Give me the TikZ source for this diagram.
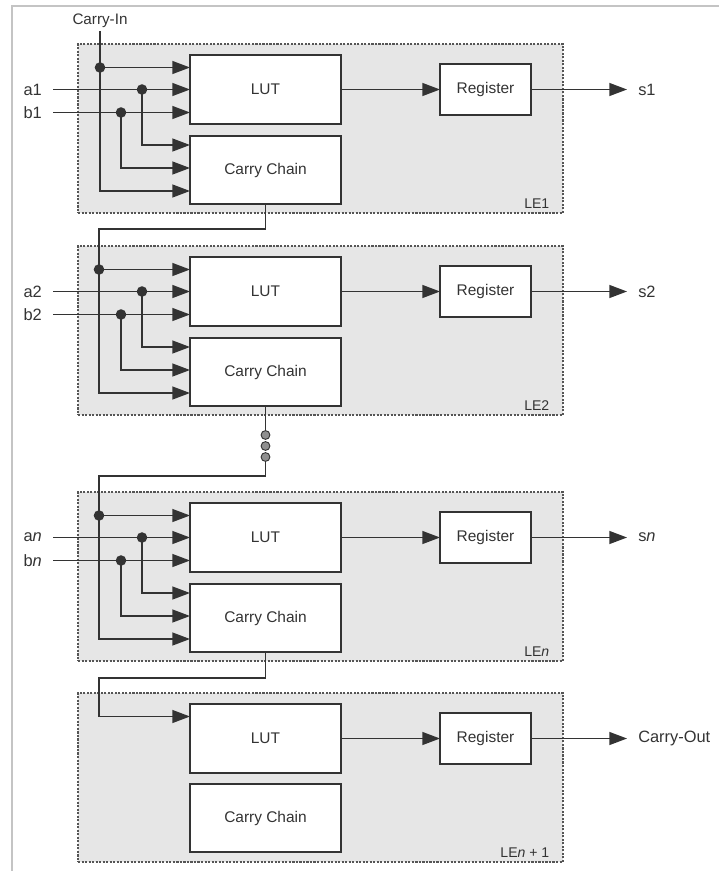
\documentclass[tikz,border=0pt]{standalone}
\usepackage{fontspec}
\setmainfont{Liberation Sans}
\usepackage{xcolor}
\usepackage{tikz}
\usetikzlibrary{positioning,arrows.meta,calc}

\definecolor{wire}{HTML}{333333}
\definecolor{lefill}{HTML}{E6E6E6}
\definecolor{ledash}{HTML}{555555}
\definecolor{pageline}{HTML}{C4C4C4}

\begin{document}
\begin{tikzpicture}[x=0.03cm,y=-0.03cm,color=wire,line width=1.2pt,
  >={Triangle[length=15pt,width=11pt]},
  every node/.style={font=\fontsize{13.2}{15}\selectfont,align=center},
  lebox/.style={draw=ledash,fill=lefill,line width=1.1pt,dash pattern=on 1.8pt off 1.2pt,
    minimum width=14.55cm,minimum height=5.07cm,inner sep=0pt,outer sep=0pt},
  lutbox/.style={draw,fill=white,line width=1.4pt,minimum width=4.53cm,minimum height=2.07cm,
    inner sep=0pt,outer sep=0pt},
  ccbox/.style={lutbox,minimum height=2.04cm},
  regbox/.style={lutbox,minimum width=2.73cm,minimum height=1.53cm},
  joint/.style={circle,fill,inner sep=0pt,minimum size=9pt,outer sep=0pt},
  gapdot/.style={circle,draw=wire,fill=wire!55,line width=0.8pt,inner sep=0pt,minimum size=7.5pt},
  iolbl/.style={inner xsep=9pt,inner ysep=1pt,font=\fontsize{14}{16}\selectfont},
  lelbl/.style={inner sep=0pt,font=\fontsize{12}{14}\selectfont},
  cinlbl/.style={inner sep=2pt,font=\fontsize{13}{15}\selectfont}]
  \useasboundingbox (0,0) rectangle (719,871);
  \draw[pageline,line width=1.3pt] (12,871) -- (12,6) -- (719,6);

  % LE1
  \node[lebox] (le1) at (320.5,128.5) {};
  \node[lutbox] (lut1) at (265.5,89.5) {LUT};
  \node[ccbox,below=0.36cm of lut1] (cc1) {Carry Chain};
  \node[regbox,right=2.97cm of lut1] (reg1) {Register};
  \node[lelbl,anchor=base east] (lename1) at ($(le1.south east)+(-13,-5)$) {LE1};
  \node[cinlbl,anchor=south] (cin) at (100,31) {Carry-In};
  \node[joint] (jc1) at (100,67.5) {};
  \node[joint] (ja1) at (142,89.5) {};
  \node[joint] (jb1) at (121,112.5) {};
  \node[iolbl,anchor=east] (a1) at (53,89.5) {a1};
  \node[iolbl,anchor=east] (b1) at (53,112.5) {b1};
  \node[iolbl,right=2.88cm of reg1] (s1) {s1};

  \draw (cin) -- (jc1.center);
  \draw[->] (jc1.center) -- (lut1.west |- jc1.center);
  \draw[->] (jc1.center) |- ($(cc1.west)+(0,21)$);
  \draw (a1) -- (ja1.center);
  \draw[->] (ja1.center) -- (lut1.west |- ja1.center);
  \draw[->] (ja1.center) |- ($(cc1.west)+(0,-25)$);
  \draw (b1) -- (jb1.center);
  \draw[->] (jb1.center) -- (lut1.west |- jb1.center);
  \draw[->] (jb1.center) |- ($(cc1.west)+(0,-2)$);
  \draw[->] (lut1) -- (reg1);
  \draw[->] (reg1) -- (s1);

  % LE2
  \node[lebox] (le2) at (320.5,330.5) {};
  \node[lutbox] (lut2) at (265.5,291.5) {LUT};
  \node[ccbox,below=0.36cm of lut2] (cc2) {Carry Chain};
  \node[regbox,right=2.97cm of lut2] (reg2) {Register};
  \node[lelbl,anchor=base east] (lename2) at ($(le2.south east)+(-13,-5)$) {LE2};
  \node[joint] (jc2) at (99,269.5) {};
  \node[joint] (ja2) at (142,291.5) {};
  \node[joint] (jb2) at (121,314.5) {};
  \node[iolbl,anchor=east] (a2) at (53,291.5) {a2};
  \node[iolbl,anchor=east] (b2) at (53,314.5) {b2};
  \node[iolbl,right=2.88cm of reg2] (s2) {s2};

  \draw (cc1.south) -- ++(0,25) -| (jc2.center);
  \draw[->] (jc2.center) -- (lut2.west |- jc2.center);
  \draw[->] (jc2.center) |- ($(cc2.west)+(0,21)$);
  \draw (a2) -- (ja2.center);
  \draw[->] (ja2.center) -- (lut2.west |- ja2.center);
  \draw[->] (ja2.center) |- ($(cc2.west)+(0,-25)$);
  \draw (b2) -- (jb2.center);
  \draw[->] (jb2.center) -- (lut2.west |- jb2.center);
  \draw[->] (jb2.center) |- ($(cc2.west)+(0,-2)$);
  \draw[->] (lut2) -- (reg2);
  \draw[->] (reg2) -- (s2);

  % gap
  \node[gapdot] (gd1) at (265.5,435) {};
  \node[gapdot] (gd2) at (265.5,446) {};
  \node[gapdot] (gd3) at (265.5,457) {};
  \draw (cc2) -- (gd1);

  % LEn
  \node[lebox] (len) at (320.5,576.5) {};
  \node[lutbox] (lutn) at (265.5,537.5) {LUT};
  \node[ccbox,below=0.36cm of lutn] (ccn) {Carry Chain};
  \node[regbox,right=2.97cm of lutn] (regn) {Register};
  \node[lelbl,anchor=base east] (lenamen) at ($(len.south east)+(-13,-5)$) {LE\textit{n}};
  \node[joint] (jcn) at (99,515.5) {};
  \node[joint] (jan) at (142,537.5) {};
  \node[joint] (jbn) at (121,560.5) {};
  \node[iolbl,anchor=east] (an) at (53,537.5) {a\textit{n}};
  \node[iolbl,anchor=east] (bn) at (53,560.5) {b\textit{n}};
  \node[iolbl,right=2.88cm of regn] (sn) {s\textit{n}};

  \draw (gd3) -- ++(0,19) -| (jcn.center);
  \draw[->] (jcn.center) -- (lutn.west |- jcn.center);
  \draw[->] (jcn.center) |- ($(ccn.west)+(0,21)$);
  \draw (an) -- (jan.center);
  \draw[->] (jan.center) -- (lutn.west |- jan.center);
  \draw[->] (jan.center) |- ($(ccn.west)+(0,-25)$);
  \draw (bn) -- (jbn.center);
  \draw[->] (jbn.center) -- (lutn.west |- jbn.center);
  \draw[->] (jbn.center) |- ($(ccn.west)+(0,-2)$);
  \draw[->] (lutn) -- (regn);
  \draw[->] (regn) -- (sn);

  % LEn+1
  \node[lebox] (lenp) at (320.5,777.5) {};
  \node[lutbox] (lutnp) at (265.5,738.5) {LUT};
  \node[ccbox,below=0.33cm of lutnp] (ccnp) {Carry Chain};
  \node[regbox,right=2.97cm of lutnp] (regnp) {Register};
  \node[lelbl,anchor=base east] (lenamenp) at ($(lenp.south east)+(-13,-5)$) {LE\textit{n} + 1};
  \node[iolbl,right=2.88cm of regnp] (cout) {Carry-Out};

  \draw[->] (ccn.south) -- ++(0,26) -- ++(-166.5,0) |- ($(lutnp.west)+(0,-22)$);
  \draw[->] (lutnp) -- (regnp);
  \draw[->] (regnp) -- (cout);
\end{tikzpicture}
\end{document}
